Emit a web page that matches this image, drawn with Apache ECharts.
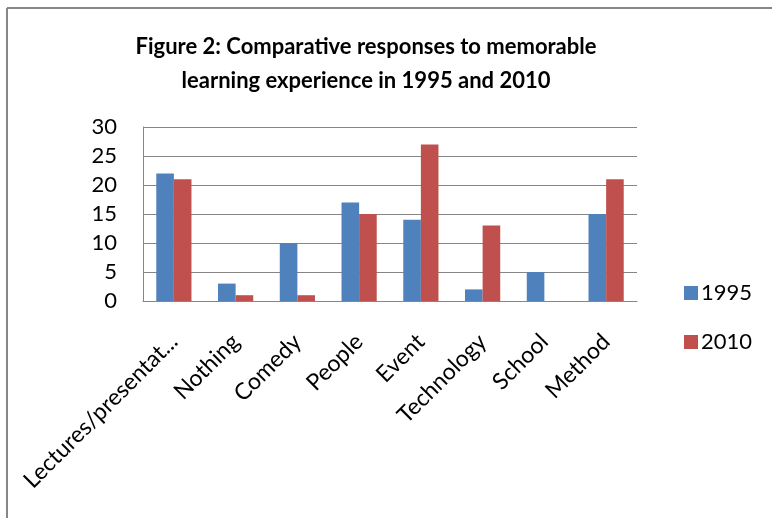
<!DOCTYPE html>
<html>
<head>
<meta charset="utf-8">
<script src="https://cdn.jsdelivr.net/npm/echarts@6/dist/echarts.min.js"></script>
<style>
html,body{margin:0;padding:0;background:#fff;}
#chart{width:772px;height:518px;}
</style>
</head>
<body>
<div id="chart"></div>
<script>
var categories = ['Lectures/presentat...', 'Nothing', 'Comedy', 'People', 'Event', 'Technology', 'School', 'Method'];
var values1995 = [22, 3, 10, 17, 14, 2, 5, 15];
var values2010 = [21, 1, 1, 15, 27, 13, 0, 21];
var yTicks = [0, 5, 10, 15, 20, 25, 30];
var titleLines = ['Figure 2: Comparative responses to memorable', 'learning experience in 1995 and 2010'];

var FONT = 'Lato';
var chart = echarts.init(document.getElementById('chart'));
chart.setOption({
  backgroundColor: '#fff',
  animation: false,
  textStyle: { fontFamily: FONT },
  title: {
    text: titleLines.join('\n'),
    left: 361, textAlign: 'center', top: 25,
    textStyle: { fontFamily: FONT, fontSize: 22, fontWeight: 'bold', color: '#000', lineHeight: 34 }
  },
  graphic: [
    { type: 'line', shape: { x1: 7, y1: 8, x2: 772, y2: 8 }, style: { stroke: '#878787', lineWidth: 2 } },
    { type: 'line', shape: { x1: 7, y1: 8, x2: 7, y2: 518 }, style: { stroke: '#878787', lineWidth: 2 } }
  ],
  legend: {
    orient: 'vertical', left: 679, top: 277,
    itemWidth: 14, itemHeight: 14, itemGap: 27, icon: 'rect',
    textStyle: { fontFamily: FONT, fontSize: 22, color: '#000', padding: [0, 0, 0, -2] },
    data: ['1995', '2010']
  },
  grid: { left: 143, right: 135, top: 127, bottom: 217, containLabel: false },
  xAxis: {
    type: 'category', data: categories,
    axisLine: { lineStyle: { color: '#868686', width: 1 } },
    axisTick: { show: false },
    axisLabel: { rotate: 45, fontFamily: FONT, fontSize: 23, color: '#000', margin: 37, interval: 0 }
  },
  yAxis: {
    type: 'value', min: yTicks[0], max: yTicks[yTicks.length - 1], interval: 5,
    axisLine: { show: true, lineStyle: { color: '#868686', width: 1 } },
    axisTick: { show: false },
    splitLine: { lineStyle: { color: '#868686', width: 1 } },
    axisLabel: { fontFamily: FONT, fontSize: 22, color: '#000', margin: 26 }
  },
  series: [
    { name: '1995', type: 'bar', data: values1995, barGap: '0%', barCategoryGap: '43%', itemStyle: { color: '#4F81BD' } },
    { name: '2010', type: 'bar', data: values2010, barGap: '0%', barCategoryGap: '43%', itemStyle: { color: '#C0504D' } }
  ]
});
</script>
</body>
</html>
